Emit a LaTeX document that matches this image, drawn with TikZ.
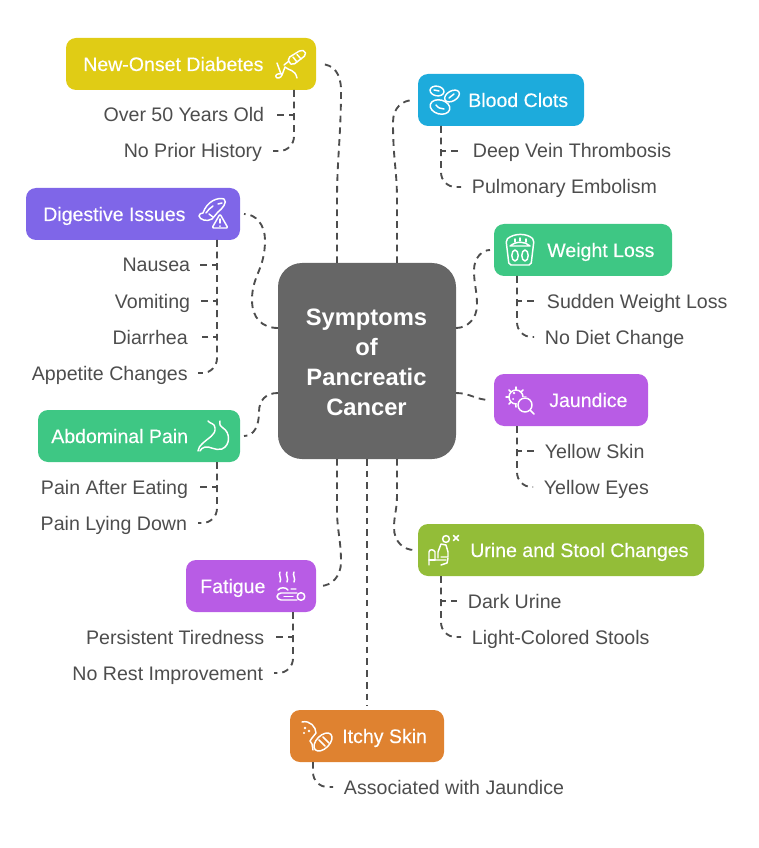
\documentclass[tikz,border=0pt]{standalone}
\usepackage{fontspec}
\setmainfont{Liberation Sans}
\newfontfamily\titlefont[FakeBold=0.25]{Liberation Sans}
\usetikzlibrary{calc}
\definecolor{cyellow}{HTML}{E0CC15}
\definecolor{cblue}{HTML}{1DABDC}
\definecolor{cgreen}{HTML}{3EC784}
\definecolor{cviolet}{HTML}{7F66E8}
\definecolor{corchid}{HTML}{B85CE5}
\definecolor{colive}{HTML}{93BD38}
\definecolor{corange}{HTML}{DF8230}
\definecolor{cgray}{HTML}{666666}
\definecolor{cink}{HTML}{4D4D4D}
\tikzset{
  x=0.75pt,y=-0.75pt,
  hub/.style={fill=cgray,rounded corners=18pt,minimum width=133.5pt,minimum height=147pt,inner sep=0pt},
  hubtext/.style={inner sep=0pt,text=white,align=center,font=\fontsize{17.8}{22.5}\selectfont\bfseries},
  box/.style={rounded corners=7.5pt,minimum height=39pt,inner sep=0pt},
  title/.style={text=white,inner sep=0pt,anchor=west,text height=14.25pt,text depth=3.75pt,font=\titlefont\fontsize{14.65}{17}\selectfont},
  item/.style={text=cink,inner ysep=0pt,inner xsep=8pt,text height=14.25pt,text depth=3.75pt,font=\fontsize{14.7}{17}\selectfont},
  iteml/.style={item,anchor=east},
  itemr/.style={item,anchor=west},
  conn/.style={draw=cink,line width=1.4pt,dash pattern=on 5pt off 3.8pt},
  connround/.style={conn,rounded corners=11pt},
  ico/.style={draw=white,line width=1.1pt,line cap=round,line join=round},
}
\begin{document}
\begin{tikzpicture}
\useasboundingbox (0,0) rectangle (758,848);
% boxes
\node[hub] (hub) at (367,361) {};
\node[hubtext] (hubT) at (366.5,362) {Symptoms\\of\\Pancreatic\\Cancer};
\node[box,fill=cyellow,minimum width=187.5pt] (diab) at (191,64) {};
\node[box,fill=cblue,minimum width=124.5pt] (clot) at (501,100) {};
\node[box,fill=cviolet,minimum width=160.5pt] (dig) at (133,214) {};
\node[box,fill=cgreen,minimum width=133.5pt] (wgt) at (583,250) {};
\node[box,fill=corchid,minimum width=115.5pt] (jau) at (571,400) {};
\node[box,fill=cgreen,minimum width=151.5pt] (abd) at (139,436) {};
\node[box,fill=colive,minimum width=214.5pt] (uri) at (561,550) {};
\node[box,fill=corchid,minimum width=97.5pt] (fat) at (251,586) {};
\node[box,fill=corange,minimum width=115.5pt] (itc) at (367,736) {};
% titles
\node[title] (diabT) at (83,64) {New-Onset Diabetes};
\node[title] (clotT) at (468,100) {Blood Clots};
\node[title] (digT) at (43,214) {Digestive Issues};
\node[title] (wgtT) at (547,250) {Weight Loss};
\node[title] (jauT) at (549,400) {Jaundice};
\node[title] (abdT) at (51,436) {Abdominal Pain};
\node[title] (uriT) at (470,550) {Urine and Stool Changes};
\node[title] (fatT) at (200,586) {Fatigue};
\node[title] (itcT) at (342,736) {Itchy Skin};
% items
\node[iteml] (d1) at (275,115) {Over 50 Years Old};
\node[iteml] (d2) at (273,151) {No Prior History};
\node[itemr] (c1) at (462,151) {Deep Vein Thrombosis};
\node[itemr] (c2) at (461,187) {Pulmonary Embolism};
\node[iteml,inner xsep=6.5pt] (g1) at (199,265) {Nausea};
\node[iteml,inner xsep=6.5pt] (g2) at (199,301) {Vomiting};
\node[iteml,inner xsep=7.5pt] (g3) at (198,337) {Diarrhea};
\node[iteml,inner xsep=7.5pt] (g4) at (198,373) {Appetite Changes};
\node[itemr] (w1) at (536,301) {Sudden Weight Loss};
\node[itemr] (w2) at (534,337) {No Diet Change};
\node[itemr] (j1) at (534,451) {Yellow Skin};
\node[itemr] (j2) at (533,487) {Yellow Eyes};
\node[iteml] (a1) at (199,487) {Pain After Eating};
\node[iteml] (a2) at (198,523) {Pain Lying Down};
\node[itemr] (u1) at (457,601) {Dark Urine};
\node[itemr] (u2) at (461,637) {Light-Colored Stools};
\node[iteml] (f1) at (275,637) {Persistent Tiredness};
\node[iteml] (f2) at (274,673) {No Rest Improvement};
\node[itemr] (i1) at (333,787) {Associated with Jaundice};
% anchors on the hub and boxes
\coordinate (ht1) at (337,263); \coordinate (ht2) at (397,263);
\coordinate (hb1) at (337,459); \coordinate (hb2) at (367,459); \coordinate (hb3) at (397,459);
\coordinate (hl1) at (278,328); \coordinate (hl2) at (278,393);
\coordinate (hr1) at (456,328); \coordinate (hr2) at (456,393);
\coordinate (diabE) at (320,64); \coordinate (clotW) at (414,100);
\coordinate (digE) at (244,214); \coordinate (wgtW) at (490,250);
\coordinate (jauW) at (490,400); \coordinate (abdE) at (244,436);
\coordinate (uriW) at (414,550); \coordinate (fatE) at (320,586);
\coordinate (itcN) at (367,706);
\coordinate (diabS) at (294,90); \coordinate (clotS) at (441,126);
\coordinate (digS) at (217,240); \coordinate (wgtS) at (517,276);
\coordinate (jauS) at (517,426); \coordinate (abdS) at (217,462);
\coordinate (uriS) at (441,576); \coordinate (fatS) at (293,612);
\coordinate (itcS) at (313,762);
% hub connectors
\draw[conn] (ht1) -- (337,200) .. controls (337,160) and (341,135) .. (341,90) .. controls (341,74) and (334,64) .. (diabE);
\draw[conn] (ht2) -- (397,200) .. controls (397,170) and (393,160) .. (393,122) .. controls (393,108) and (402,100) .. (clotW);
\draw[conn] (hl1) .. controls (262,328) and (252,318) .. (252,300) .. controls (252,275) and (265,270) .. (265,240) .. controls (265,225) and (256,214) .. (digE);
\draw[conn] (hr1) .. controls (468,328) and (477,318) .. (477,305) .. controls (477,290) and (474,285) .. (474,270) .. controls (474,258) and (482,250) .. (wgtW);
\draw[conn] (hr2) .. controls (470,393) and (476,400) .. (jauW);
\draw[conn] (hl2) .. controls (266,393) and (259,400) .. (259,412) .. controls (259,426) and (254,436) .. (abdE);
\draw[conn] (hb1) -- (337,510) .. controls (337,530) and (341,540) .. (341,562) .. controls (341,576) and (332,586) .. (fatE);
\draw[conn] (hb3) -- (397,495) .. controls (397,510) and (394,515) .. (394,528) .. controls (394,542) and (404,550) .. (uriW);
\draw[conn] (hb2) -- (itcN);
% branches, left side
\foreach \s/\a/\b in {diabS/d1/d2,abdS/a1/a2,fatS/f1/f2}{
  \draw[conn] (\s) |- (\a.east);
  \draw[connround] (\s) |- (\b.east);
}
\draw[conn] (digS) |- (g1.east);
\draw[conn] (digS) |- (g2.east);
\draw[conn] (digS) |- (g3.east);
\draw[connround] (digS) |- (g4.east);
% branches, right side
\foreach \s/\a/\b in {clotS/c1/c2,wgtS/w1/w2,jauS/j1/j2,uriS/u1/u2}{
  \draw[conn] (\s) |- (\a.west);
  \draw[connround] (\s) |- (\b.west);
}
\draw[connround] (itcS) |- (i1.west);
\begin{scope}[ico]
% icon: test pen and hand
\draw[rounded corners=1.5pt] (288,58) -- (301,50) -- (305,51) -- (306,55) -- (293,65) -- (289,63) -- cycle;
\draw (293,57) -- (297,62) (297,54.5) -- (301,59);
\draw (284,65) -- (289,61);
\draw (277,63) -- (281,74) .. controls (278,73) and (275,75) .. (276,77) .. controls (277,79) and (281,78) .. (282,75) -- (285,67) .. controls (289,71) and (295,69) .. (297,78);
% icon: blood cells
\draw[rotate around={-10:(437,91)}] (437,91) ellipse [x radius=7,y radius=4.8];
\draw[rotate around={30:(452,96)}] (452,96) ellipse [x radius=8,y radius=5];
\draw[rotate around={-15:(440,107)}] (440,107) ellipse [x radius=10,y radius=7];
\draw (434,90) -- (439,91) (449,98) -- (454,94) (436,105) .. controls (438,108) and (441,109) .. (444,109);
% icon: intestine and warning
\draw (203,213) .. controls (207,201) and (218,197) .. (224,199) .. controls (228,202) and (222,209) .. (218,212) -- (212,219) .. controls (207,222) and (200,220) .. (199,216) .. controls (199,214) and (201,213) .. (203,213);
\draw (206,213) .. controls (208,210) and (210,208) .. (213,206) (213,217) -- (209,214) (222,203) -- (218,204);
\draw[rounded corners=1pt] (220,214) -- (228,228) -- (212,228) -- cycle;
\draw (220,219) -- (220,223) (220,226) -- (220,226.2);
% icon: bathroom scale
\draw[rounded corners=1.5pt] (506,240) .. controls (514,233) and (527,233) .. (534,240) -- (531,265) -- (509,265) -- cycle;
\draw (510,246) .. controls (516,241) and (525,241) .. (530,246) -- (510,246);
\draw (515,255.5) ellipse [x radius=3.2,y radius=5.5] (525,255.5) ellipse [x radius=3.2,y radius=5.5];
\draw (515,239) -- (515,242) (520,238) -- (520,241) (526,239) -- (526,242);
% icon: germ and magnifier
\draw (516,397) circle [radius=7];
\foreach \t in {0,45,...,315} \draw (516,397) ++(\t:7) -- ++(\t:3);
\fill[white,draw=none] (514,393) circle [radius=1.4] (520,391.5) circle [radius=1] (513,399) circle [radius=1];
\fill[corchid,draw=none] (525,405) circle [radius=8.5];
\draw (525,405) circle [radius=7] (530.5,410.5) -- (534,414);
% icon: stomach
\draw (220,421) .. controls (219,425) and (221,427) .. (223,428) .. controls (230,432) and (231,445) .. (222,449) .. controls (215,451) and (210,446) .. (205,447) .. controls (202,448) and (201,449) .. (200,451);
\draw (208,421) .. controls (210,424) and (215,423) .. (215,428) .. controls (216,435) and (208,438) .. (203,443) .. controls (200,446) and (198,448) .. (198,451);
% icon: steam and log
\draw (280,572) .. controls (278,575) and (282,578) .. (280,582) (287,572) .. controls (285,575) and (289,578) .. (287,582) (294,572) .. controls (292,575) and (296,578) .. (294,582);
\draw[rounded corners=3pt] (297,593) -- (277,593) -- (277,600) -- (297,600);
\draw (301,596.5) circle [radius=3.8];
\draw (284,596.5) -- (293,596.5);
\draw (278,590) .. controls (280,587) and (286,587) .. (288,590) (291,589) -- (296,589);
% icon: person on toilet
\draw (446,539) circle [radius=3.4];
\draw (453.5,535.5) -- (458.5,540.5) (458.5,535.5) -- (453.5,540.5);
\draw (429,565) -- (429,552) .. controls (429,549) and (434,549) .. (435,552) -- (435,560) -- (446,560);
\draw (429,560) -- (435,560);
\draw (438,558) -- (438,552) -- (441,544) -- (446,545) -- (448,552) -- (448,557) -- (441,557);
\draw (448,558) -- (447,563) -- (441,565);
% icon: skin and peanut
\draw (302,722) .. controls (310,720) and (316,727) .. (316,733) -- (312,738) -- (310,741) -- (312,744) -- (313,750);
\fill[white,draw=none] (305,728) circle [radius=1.3] (309,731) circle [radius=1.3] (304,733) circle [radius=1.2];
\draw[rotate around={45:(323,742)}] (323,742) ellipse [x radius=11,y radius=6.5];
\draw (319,740) -- (325,746) (323,737) -- (329,743);
\end{scope}
\end{tikzpicture}
\end{document}
